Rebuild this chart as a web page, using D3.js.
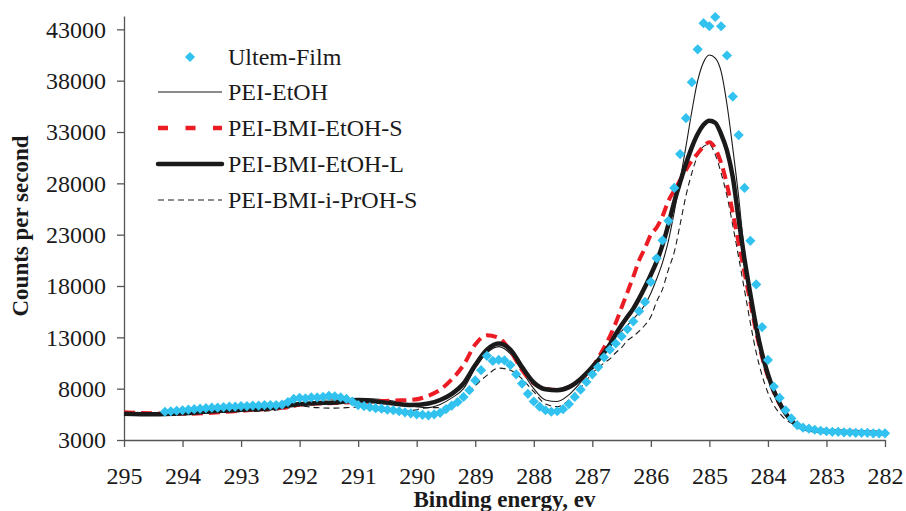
<!DOCTYPE html>
<html>
<head>
<meta charset="utf-8">
<script src="https://cdn.jsdelivr.net/npm/d3@7"></script>
<style>
  html, body { margin: 0; padding: 0; background: #fff; }
  svg { display: block; }
  text { font-family: "Liberation Serif", "Times New Roman", serif; fill: #1a1a1a; }
</style>
</head>
<body>
<div id="chart"></div>
<script>
// Ultem-Film measured points, 0.1 eV steps from 294.3 down to 282.0
const ultemStart = 294.3;
const ultemStep = 0.1;
const ultemFilm = [
  5750, 5800, 5850, 5900, 5950, 6000, 6050, 6100, 6150, 6150,
  6200, 6250, 6250, 6300, 6300, 6350, 6350, 6400, 6400, 6400,
  6450, 6700, 7000, 7100, 7050, 7150, 7150, 7200, 7300, 7250,
  7150, 7000, 6750, 6400, 6300, 6200, 6100, 6050, 5950, 5900,
  5800, 5700, 5600, 5500, 5450, 5400, 5500, 5650, 6000, 6350,
  6700, 7200, 7850, 8800, 9800, 11200, 10700, 10800, 10750, 10300,
  9400, 8500, 7500, 6750, 6250, 5900, 5750, 5800, 6000, 6500,
  7200, 7900, 8650, 9400, 10100, 11050, 11800, 12400, 13100, 13800,
  14550, 15550, 16450, 18400, 20700, 22450, 24350, 27550, 30850, 34350,
  37850, 41050, 43600, 43300, 44200, 43300, 40450, 36450, 32700, 27550,
  22400, 18150, 14000, 10800, 8200, 7100, 5900, 5100, 4450, 4200,
  4100, 4000, 3900, 3850, 3800, 3800, 3750, 3750, 3700, 3700,
  3700, 3650, 3650, 3650
];

// energies for the fitted curves
const lineEnergy = [
  295, 294.5, 294, 293.5, 293, 292.5, 292.2, 292, 291.7, 291.4,
  291, 290.7, 290.4, 290.1, 289.8, 289.6, 289.4, 289.2, 289, 288.8,
  288.6, 288.4, 288.2, 288, 287.8, 287.6, 287.4, 287.2, 287, 286.8,
  286.7, 286.6, 286.5, 286.4, 286.3, 286.2, 286.1, 286, 285.9, 285.8,
  285.7, 285.6, 285.5, 285.4, 285.3, 285.2, 285.1, 285, 284.9, 284.8,
  284.7, 284.6, 284.5, 284.4, 284.3, 284.2, 284.1, 284, 283.9, 283.8,
  283.7, 283.6, 283.5, 283.4, 283.2, 283, 282.5, 282
];

const peiEtOH = [
  5450, 5450, 5550, 5750, 5950, 6150, 6900, 7050, 7050, 7000,
  7050, 7000, 6800, 6350, 6150, 6450, 7100, 8000, 10000, 11500,
  12100, 11400, 9700, 8000, 6900, 6750, 7400, 8600, 10000, 11500,
  12300, 13100, 13600, 14200, 14800, 15400, 16200, 17300, 18700, 20300,
  22400, 25200, 28300, 31600, 35000, 38000, 39800, 40500, 40200, 38900,
  35700, 31400, 26700, 21200, 17500, 14300, 11600, 9500, 7900, 6600,
  5600, 4900, 4400, 4150, 3950, 3850, 3750, 3650
];

const peiBmiEtOHS = [
  5700, 5600, 5550, 5650, 5850, 6050, 6200, 6450, 6550, 6600,
  6700, 6750, 6850, 6900, 7300, 7900, 8900, 10300, 12300, 13200,
  12950, 11700, 9800, 8500, 8000, 7870, 8150, 8900, 10100, 12000,
  13100, 14400, 15900, 17400, 18900, 20500, 21700, 23000, 23700, 24800,
  26300, 27300, 28300, 29300, 30200, 30900, 31600, 32000, 31400, 30000,
  27900, 25100, 22200, 19300, 16400, 13500, 11100, 9200, 7700, 6500,
  5600, 4900, 4450, 4200, 4000, 3900, 3800, 3700
];

const peiBmiEtOHL = [
  5550, 5500, 5600, 5800, 5950, 6100, 6350, 6500, 6600, 6650,
  6850, 6750, 6550, 6400, 6550, 6900, 7500, 8500, 10300, 11800,
  12400, 11800, 10100, 8600, 7950, 7850, 8150, 8950, 10100, 11500,
  12300, 13300, 14200, 15000, 15800, 16800, 17900, 19100, 20400, 22000,
  24000, 26200, 28100, 29900, 31500, 32800, 33700, 34100, 33900, 32800,
  31200, 28600, 24500, 20600, 17200, 14000, 11400, 9400, 7800, 6600,
  5600, 4900, 4400, 4150, 3950, 3850, 3750, 3650
];

const peiBmiIPrOHS = [
  5450, 5450, 5500, 5650, 5750, 5850, 6100, 6300, 6150, 6100,
  6200, 5950, 5750, 5850, 6150, 6150, 6500, 7300, 8300, 9300,
  10000, 9800, 8950, 7700, 6500, 6250, 6900, 8100, 9500, 10500,
  10900, 11500, 12000, 12700, 13100, 13600, 14200, 15000, 16500, 17700,
  19600, 21300, 24000, 26800, 29000, 30700, 31600, 31800, 30800, 29000,
  26800, 23900, 20800, 17600, 14400, 11500, 9300, 7600, 6400, 5600,
  5000, 4650, 4400, 4200, 3950, 3850, 3800, 3700
];

const xTicks = [295, 294, 293, 292, 291, 290, 289, 288, 287, 286, 285, 284, 283, 282];
const yTicks = [3000, 8000, 13000, 18000, 23000, 28000, 33000, 38000, 43000];

const legendLabels = ['Ultem-Film', 'PEI-EtOH', 'PEI-BMI-EtOH-S', 'PEI-BMI-EtOH-L', 'PEI-BMI-i-PrOH-S'];

const width = 906, height = 511;
const blue = '#32c2ef';
const red = '#ec1c24';
const ink = '#1a1a1a';
const axisColor = '#555';

const svg = d3.select('#chart')
  .append('svg')
  .attr('width', width)
  .attr('height', height)
  .attr('viewBox', `0 0 ${width} ${height}`);

// Scales (binding energy runs right to left)
const x = d3.scaleLinear().domain([295, 282]).range([124, 885]);
const y = d3.scaleLinear().domain([3000, 44300]).range([440, 16]);

// Axes
svg.append('g')
  .attr('transform', `translate(0,${y(3000)})`)
  .call(d3.axisBottom(x).tickValues(xTicks).tickSize(7).tickSizeOuter(0).tickPadding(20).tickFormat(d3.format('d')))
  .call(g => g.select('.domain').attr('stroke', axisColor).attr('stroke-width', 1.3))
  .call(g => g.selectAll('.tick line').attr('stroke', axisColor).attr('stroke-width', 1.3))
  .call(g => g.selectAll('text').attr('fill', ink).style('font-size', '24px').style('font-family', '"Liberation Serif", serif'));

svg.append('g')
  .attr('transform', `translate(${x(295)},0)`)
  .call(d3.axisLeft(y).tickValues(yTicks).tickSize(7).tickSizeOuter(0).tickPadding(11).tickFormat(d3.format('d')))
  .call(g => g.select('.domain').attr('stroke', axisColor).attr('stroke-width', 1.3))
  .call(g => g.selectAll('.tick line').attr('stroke', axisColor).attr('stroke-width', 1.3))
  .call(g => g.selectAll('text').attr('fill', ink).style('font-size', '24px').style('font-family', '"Liberation Serif", serif'));

// Axis titles
svg.append('text')
  .attr('x', (x(295) + x(282)) / 2)
  .attr('y', 507)
  .attr('text-anchor', 'middle')
  .style('font-size', '23px')
  .style('font-weight', 'bold')
  .text('Binding energy, ev');

svg.append('text')
  .attr('transform', 'rotate(-90)')
  .attr('x', -226)
  .attr('y', 28)
  .attr('text-anchor', 'middle')
  .style('font-size', '23px')
  .style('font-weight', 'bold')
  .text('Counts per second');

// Curves
const series = [
  { values: peiEtOH, stroke: ink, width: 1.1, dash: null },
  { values: peiBmiIPrOHS, stroke: ink, width: 1.1, dash: '6,4' },
  { values: peiBmiEtOHS, stroke: red, width: 4, dash: '11,6' },
  { values: peiBmiEtOHL, stroke: ink, width: 4.5, dash: null }
];

const line = d3.line()
  .x(d => x(d[0]))
  .y(d => y(d[1]))
  .curve(d3.curveMonotoneX);

series.forEach(s => {
  svg.append('path')
    .datum(lineEnergy.map((e, i) => [e, s.values[i]]))
    .attr('d', line)
    .attr('fill', 'none')
    .attr('stroke', s.stroke)
    .attr('stroke-width', s.width)
    .attr('stroke-dasharray', s.dash)
    .attr('stroke-linejoin', 'round');
});

// Ultem-Film diamonds
const diamond = d3.symbol().type(d3.symbolSquare).size(52);
svg.append('g')
  .selectAll('path')
  .data(ultemFilm.map((v, i) => [ultemStart - i * ultemStep, v]))
  .enter()
  .append('path')
  .attr('d', diamond)
  .attr('transform', d => `translate(${x(d[0])},${y(d[1])}) rotate(45)`)
  .attr('fill', blue);

// Legend
const legend = svg.append('g');
const rowY = [57, 92, 128, 164, 200];
legend.append('path')
  .attr('d', diamond)
  .attr('transform', `translate(190,${rowY[0]}) rotate(45)`)
  .attr('fill', blue);

const legendLines = [
  { stroke: ink, width: 1.1, dash: null, cap: 'butt' },
  { stroke: red, width: 4.3, dash: '10,17.5', cap: 'butt' },
  { stroke: ink, width: 4.5, dash: null, cap: 'round' },
  { stroke: ink, width: 1.1, dash: '6,4', cap: 'butt' }
];
legendLines.forEach((l, i) => {
  legend.append('line')
    .attr('x1', 158).attr('x2', 222)
    .attr('y1', rowY[i + 1]).attr('y2', rowY[i + 1])
    .attr('stroke', l.stroke)
    .attr('stroke-width', l.width)
    .attr('stroke-dasharray', l.dash)
    .attr('stroke-linecap', l.cap);
});

legend.selectAll('text')
  .data(legendLabels)
  .enter()
  .append('text')
  .attr('x', 228)
  .attr('y', (d, i) => rowY[i] + 8)
  .style('font-size', '24px')
  .text(d => d);
</script>
</body>
</html>
